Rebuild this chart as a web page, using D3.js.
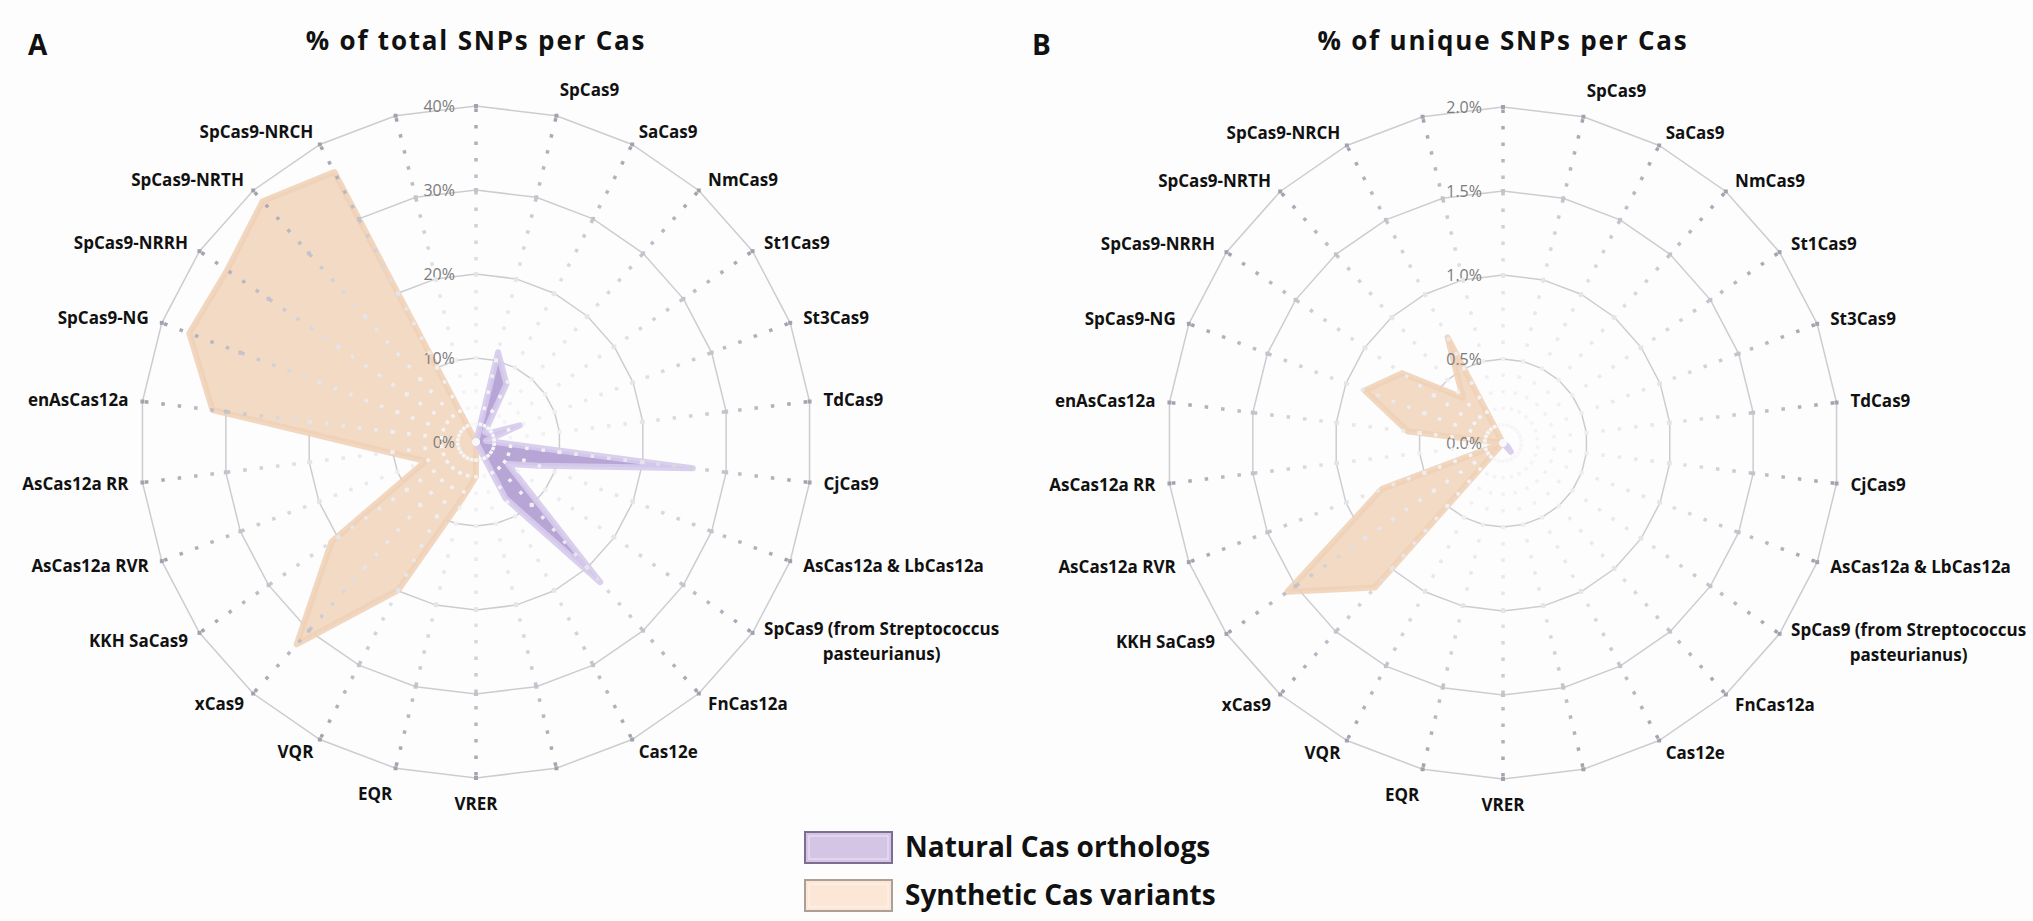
<!DOCTYPE html>
<html>
<head>
<meta charset="utf-8">
<script src="https://cdn.jsdelivr.net/npm/d3@7"></script>
<style>
  body { margin: 0; background: #fdfdfd; }
  svg { display: block; }
</style>
</head>
<body>
<div id="container-chart"></div>
<script>
// 26 spokes, clockwise from 12 o'clock; blank ones are separators
const categories = ["", "SpCas9", "SaCas9", "NmCas9", "St1Cas9", "St3Cas9", "TdCas9", "CjCas9",
  "AsCas12a & LbCas12a", "SpCas9 (from Streptococcus pasteurianus)", "FnCas12a", "Cas12e", "",
  "VRER", "EQR", "VQR", "xCas9", "KKH SaCas9", "AsCas12a RVR", "AsCas12a RR", "enAsCas12a",
  "SpCas9-NG", "SpCas9-NRRH", "SpCas9-NRTH", "SpCas9-NRCH", ""];

// % of total SNPs per Cas
const totalNatural   = [0, 11, 7.8, 1.6, 1.8, 5.6, 1.2, 26, 8, 4.6, 22.3, 7.6, 0,
                        0, 0, 0, 0, 0, 0, 0, 0, 0, 0, 0, 0, 0];
const totalSynthetic = [0, 0, 0, 0, 0, 0, 0, 0, 0, 0, 0, 0, 0,
                        4.1, 7, 19.9, 32.2, 20.9, 6.4, 10.4, 31.6, 36.5, 36, 38.3, 36.3, 0];

// % of unique SNPs per Cas
const uniqueNatural   = [0, 0, 0, 0, 0, 0, 0, 0, 0, 0.03, 0.07, 0, 0,
                         0, 0, 0, 0, 0, 0, 0, 0, 0, 0, 0, 0, 0];
const uniqueSynthetic = [0, 0, 0, 0, 0, 0, 0, 0, 0, 0, 0, 0, 0,
                         0, 0, 0, 1.15, 1.56, 0.77, 0, 0.57, 0.88, 0.73, 0.36, 0.71, 0];

const totalTicks  = [0, 10, 20, 30, 40];
const uniqueTicks = [0, 0.5, 1.0, 1.5, 2.0];

const seriesNames = ["Natural Cas orthologs", "Synthetic Cas variants"];

const width = 2033, height = 921;
const R = 336;
const labelFont = "'Open Sans', 'DejaVu Sans', sans-serif";

const svg = d3.select("#container-chart")
  .append("svg")
  .attr("width", width)
  .attr("height", height);

svg.append("rect").attr("width", width).attr("height", height).attr("fill", "#fdfdfd");
const defs = svg.append("defs");

const panels = [
  {id: "a", letter: "A", letterX: 28, cx: 476, cy: 442, title: "% of total SNPs per Cas",
   ticks: totalTicks, fmt: d => d + "%", natural: totalNatural, synthetic: totalSynthetic},
  {id: "b", letter: "B", letterX: 1032, cx: 1503, cy: 443, title: "% of unique SNPs per Cas",
   ticks: uniqueTicks, fmt: d => d.toFixed(1) + "%", natural: uniqueNatural, synthetic: uniqueSynthetic}
];

const angle = d3.scaleLinear().domain([0, categories.length]).range([0, 2 * Math.PI]);

function drawPanel(p)
{
  const rScale = d3.scaleLinear().domain([0, d3.max(p.ticks)]).range([0, R]);

  // spokes fade toward the centre
  const grad = defs.append("radialGradient")
    .attr("id", "spoke-" + p.id)
    .attr("gradientUnits", "userSpaceOnUse")
    .attr("cx", p.cx).attr("cy", p.cy).attr("r", R);
  grad.append("stop").attr("offset", 0).attr("stop-color", "#f8f8fa");
  grad.append("stop").attr("offset", 0.5).attr("stop-color", "#e4e4e9");
  grad.append("stop").attr("offset", 1).attr("stop-color", "#a2a2ad");

  const g = svg.append("g").attr("transform", "translate(" + p.cx + "," + p.cy + ")");

  // rings
  const ring = d3.lineRadial()
    .angle((d, i) => angle(i))
    .curve(d3.curveLinearClosed);

  g.selectAll(".ring")
    .data(p.ticks.filter(t => t > 0))
    .join("path")
    .attr("class", "ring")
    .attr("fill", "none")
    .attr("stroke", "#cdcdd1")
    .attr("stroke-width", 1.5)
    .attr("d", t => ring.radius(rScale(t))(categories));

  // series areas
  const area = d3.lineRadial()
    .angle((d, i) => angle(i))
    .radius(d => rScale(d))
    .curve(d3.curveLinearClosed);

  g.append("path")
    .datum(p.synthetic)
    .attr("fill", "#f2dac5")
    .attr("stroke", "#f0d0b5")
    .attr("stroke-opacity", 0.85)
    .attr("stroke-width", 6)
    .attr("stroke-linejoin", "round")
    .attr("d", area);

  g.append("path")
    .datum(p.natural)
    .attr("fill", "#b7a5d6")
    .attr("stroke", "#d6cbec")
    .attr("stroke-opacity", 0.9)
    .attr("stroke-width", 6)
    .attr("stroke-linejoin", "round")
    .attr("d", area);

  // dotted spokes on top
  const sp = svg.append("g");
  categories.forEach((c, i) => {
    const a = angle(i);
    sp.append("line")
      .attr("x1", p.cx).attr("y1", p.cy)
      .attr("x2", p.cx + R * Math.sin(a))
      .attr("y2", p.cy - R * Math.cos(a))
      .attr("stroke", "url(#spoke-" + p.id + ")")
      .attr("stroke-width", 3.5)
      .attr("stroke-dasharray", "3.5,13");
    p.ticks.filter(t => t > 0).forEach(t => {
      const r = rScale(t);
      sp.append("rect")
        .attr("x", p.cx + r * Math.sin(a) - 2)
        .attr("y", p.cy - r * Math.cos(a) - 2)
        .attr("width", 4).attr("height", 4)
        .attr("fill", "url(#spoke-" + p.id + ")");
    });
  });

  // tick labels up the first spoke
  g.selectAll(".tick")
    .data(p.ticks)
    .join("text")
    .attr("class", "tick")
    .attr("x", -21)
    .attr("y", t => -rScale(t))
    .attr("dy", "0.35em")
    .attr("text-anchor", "end")
    .attr("font-family", labelFont)
    .attr("font-size", 16)
    .attr("fill", "#7c7c7c")
    .text(p.fmt);

  // category labels
  categories.forEach((c, i) => {
    if (!c) return;
    const a = angle(i);
    const s = Math.sin(a), co = Math.cos(a);
    const x = (R + 14) * s;
    let y = -(R + 14) * co;
    if (co < -0.97) y += 12;
    if (co > 0.97) y -= 12;
    const anchor = s > 0.05 ? "start" : (s < -0.05 ? "end" : "middle");
    const t = g.append("text")
      .attr("font-family", labelFont)
      .attr("font-weight", "bold")
      .attr("font-size", 17)
      .attr("fill", "#111");
    const words = c.split(" ");
    if (c.length > 30) {
      const l1 = words.slice(0, 3).join(" "), l2 = words.slice(3).join(" ");
      const t1 = t.append("tspan").attr("x", x).attr("y", y - 12).attr("dy", "0.35em")
        .attr("text-anchor", "start").text(l1);
      const w = t1.node().getComputedTextLength();
      t1.attr("x", x + w / 2).attr("text-anchor", "middle");
      t.append("tspan").attr("x", x + w / 2).attr("y", y + 13).attr("dy", "0.35em")
        .attr("text-anchor", "middle").text(l2);
    } else {
      t.attr("x", x).attr("y", y).attr("dy", "0.35em").attr("text-anchor", anchor).text(c);
    }
  });

  // title and panel letter
  svg.append("text")
    .attr("x", p.cx).attr("y", 50)
    .attr("text-anchor", "middle")
    .attr("font-family", labelFont)
    .attr("font-weight", "bold")
    .attr("font-size", 26)
    .attr("letter-spacing", 1.8)
    .attr("fill", "#111")
    .text(p.title);

  svg.append("text")
    .attr("x", p.letterX).attr("y", 55)
    .attr("font-family", labelFont)
    .attr("font-weight", "bold")
    .attr("font-size", 28)
    .attr("fill", "#111")
    .text(p.letter);
}

panels.forEach(drawPanel);

// legend
const legendColors = [{fill: "#d4c5e4", edge: "#7d6d92"}, {fill: "#fce6d6", edge: "#ab9f96"}];
const legend = svg.append("g").attr("transform", "translate(805,832)");
seriesNames.forEach((name, i) => {
  const row = legend.append("g").attr("transform", "translate(0," + (i * 48) + ")");
  row.append("rect")
    .attr("width", 87).attr("height", 31)
    .attr("fill", legendColors[i].fill)
    .attr("stroke", legendColors[i].edge)
    .attr("stroke-width", 2);
  row.append("rect")
    .attr("x", 4).attr("y", 4)
    .attr("width", 79).attr("height", 23)
    .attr("fill", "none")
    .attr("stroke", "#ffffff")
    .attr("stroke-opacity", 0.6)
    .attr("stroke-width", 1);
  row.append("text")
    .attr("x", 100).attr("y", 25)
    .attr("font-family", labelFont)
    .attr("font-weight", "bold")
    .attr("font-size", 28)
    .attr("fill", "#111")
    .text(name);
});
</script>
</body>
</html>
